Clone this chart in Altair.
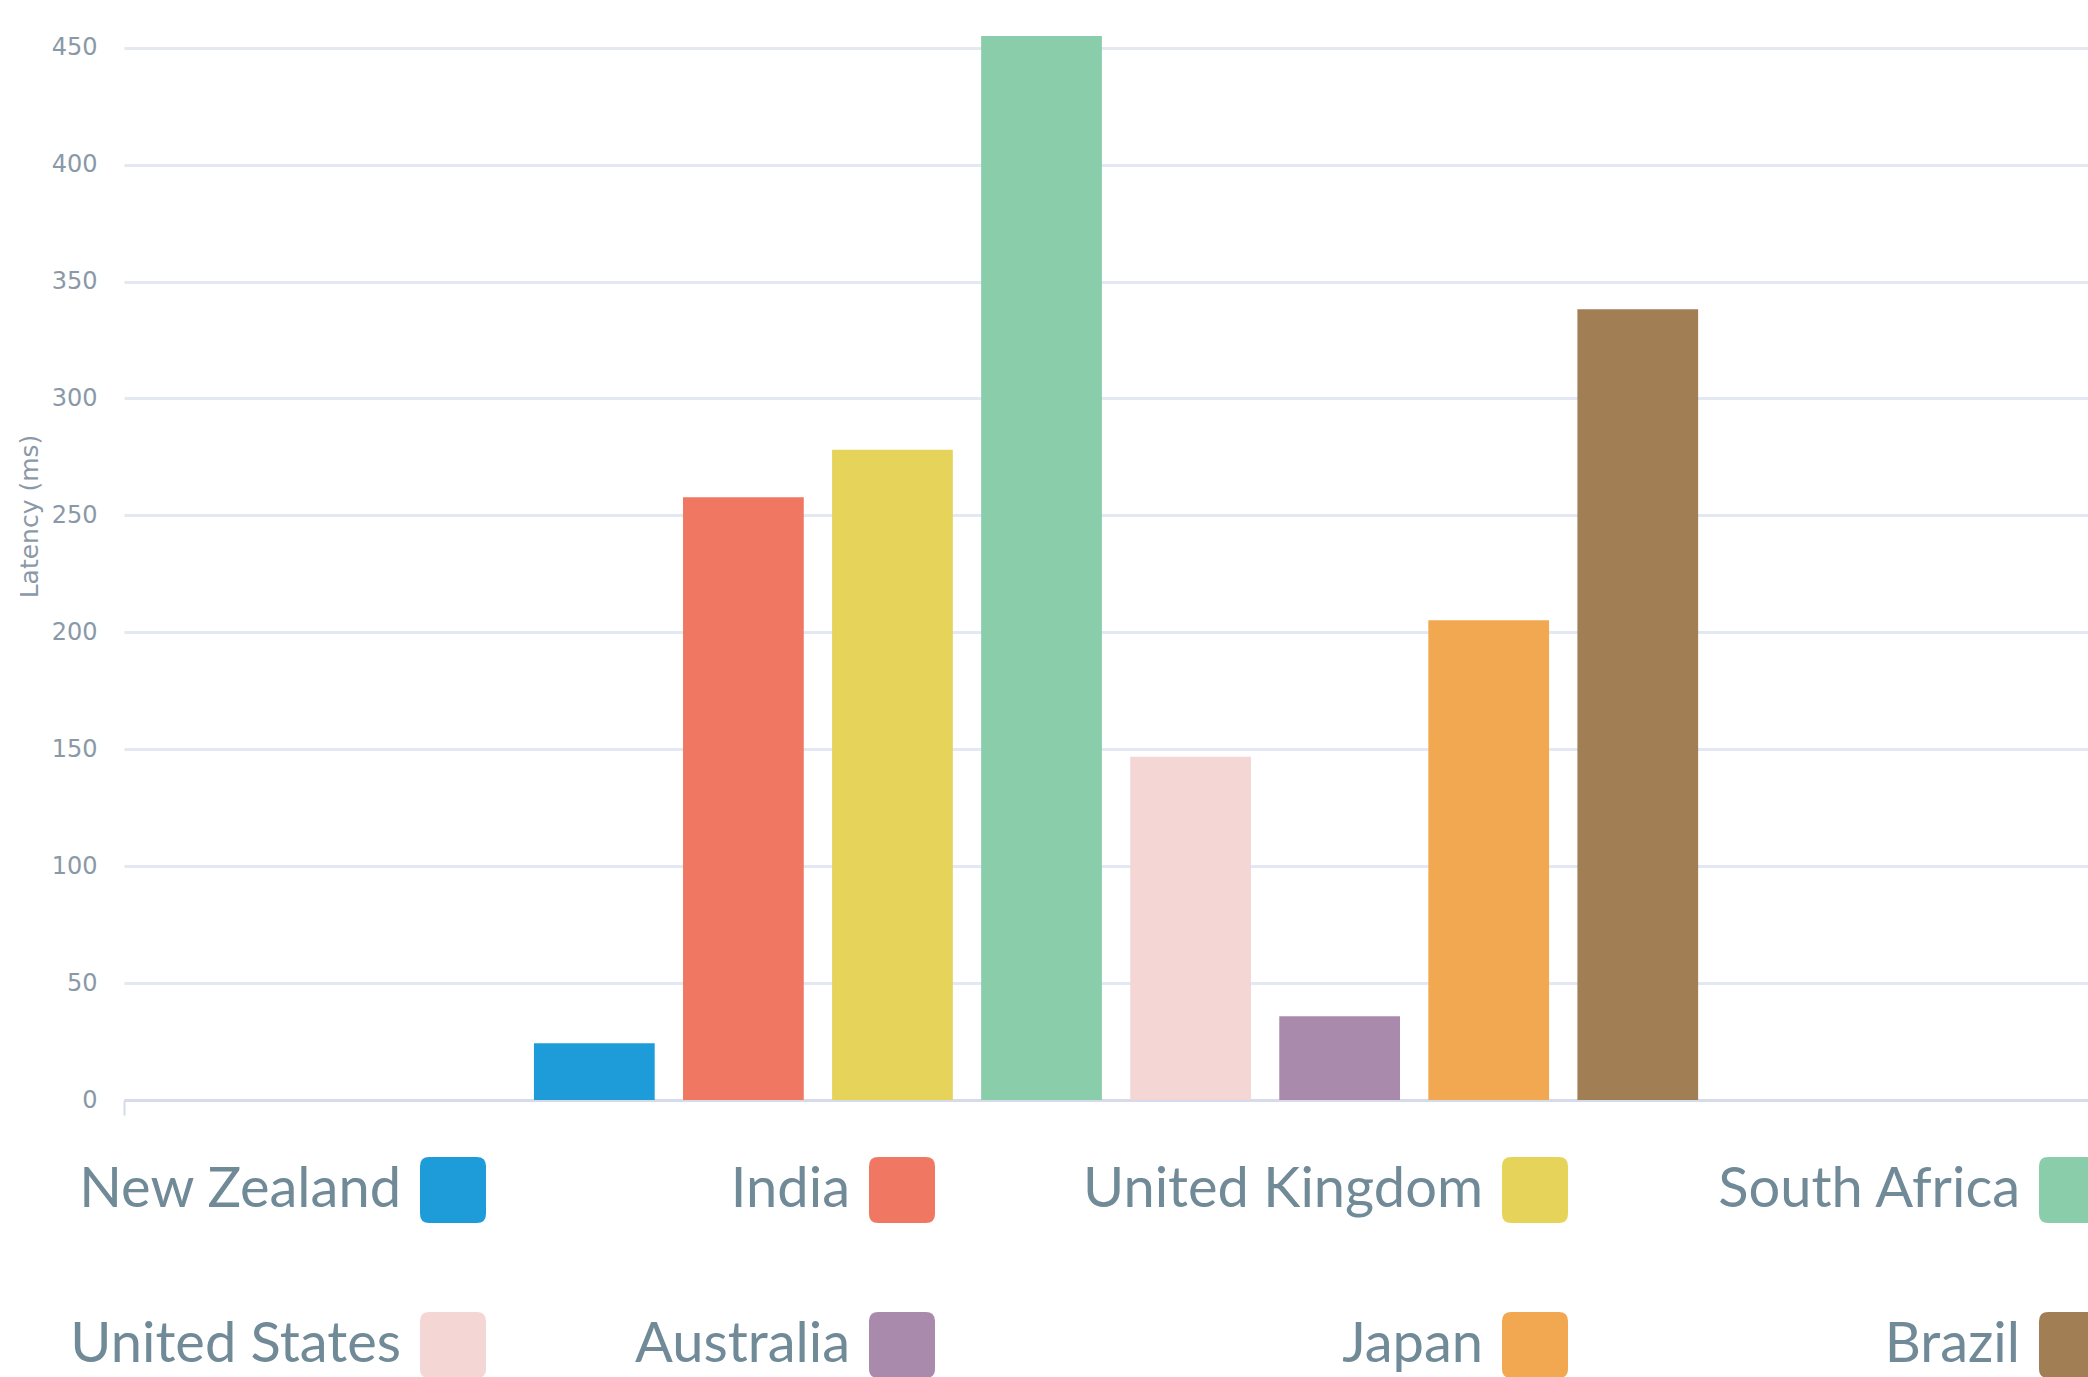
import altair as alt
import pandas as pd

countries = ["New Zealand", "India", "United Kingdom", "South Africa",
             "United States", "Australia", "Japan", "Brazil"]
latency = [24.3, 257.8, 278.1, 455, 146.8, 35.8, 205.2, 338.2]
colors = ["#1e9cd9", "#f07762", "#e6d35a", "#8acdab",
          "#f4d6d4", "#a98aac", "#f1a851", "#a27e54"]
y_ticks = [0, 50, 100, 150, 200, 250, 300, 350, 400, 450]

df = pd.DataFrame({"grp": [""] * len(countries), "country": countries, "latency": latency})

ROUNDED = ("M-0.72,-1 L0.72,-1 Q1,-1 1,-0.72 L1,0.72 Q1,1 0.72,1 "
           "L-0.72,1 Q-1,1 -1,0.72 L-1,-0.72 Q-1,-1 -0.72,-1 Z")

bars = alt.Chart(df).mark_bar(cornerRadius=0).encode(
    x=alt.X("grp:N",
            scale=alt.Scale(range=[0, 1984], paddingInner=0, paddingOuter=0),
            axis=alt.Axis(title=None, labels=False, grid=False, ticks=True,
                          tickSize=15, tickWidth=2, tickColor="#d6dbec",
                          bandPosition=0, domain=True, domainColor="#d6dbec",
                          domainWidth=3)),
    xOffset=alt.XOffset("country:N", sort=countries,
                        scale=alt.Scale(domain=countries, range=[395.8, 1588.3],
                                        paddingInner=0.19, paddingOuter=0.095)),
    y=alt.Y("latency:Q",
            scale=alt.Scale(domain=[0, 455], nice=False, zero=True),
            axis=alt.Axis(title="Latency (ms)", values=y_ticks, grid=True,
                          gridColor="#e3e8f2", gridWidth=3, domain=False,
                          ticks=False, tickSize=0, labelPadding=27,
                          labelFont="DejaVu Sans", labelFontSize=24,
                          labelColor="#8a99a7",
                          titleFont="DejaVu Sans", titleFontSize=25,
                          titleFontWeight="normal", titleColor="#8a99a7",
                          titleX=-95, titleY=480, titleAlign="center",
                          titleBaseline="middle")),
    color=alt.Color("country:N",
                    scale=alt.Scale(domain=countries, range=colors),
                    sort=countries,
                    legend=alt.Legend(orient="none", legendX=296, legendY=1121,
                                      direction="horizontal", columns=4,
                                      columnPadding=148, rowPadding=89,
                                      symbolType=ROUNDED, symbolSize=4356,
                                      symbolStrokeWidth=0, symbolOpacity=1,
                                      symbolOffset=0,
                                      labelFont="Lato", labelFontSize=56,
                                      labelColor="#708a98", labelAlign="right",
                                      labelOffset={"expr": "-85"}, labelLimit=2000,
                                      title=None, padding=0)),
)

chart = bars.properties(
    width=1964, height=1064,
    background="#ffffff",
    autosize=alt.AutoSizeParams(type="none"),
    padding={"left": 124, "top": 36, "right": 0, "bottom": 277},
).configure_view(stroke=None)

chart.save("out.html", embed_options={"renderer": "svg", "actions": False})
